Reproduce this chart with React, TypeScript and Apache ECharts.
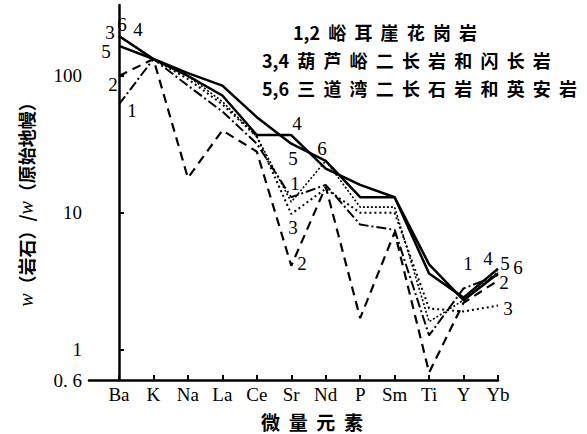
import React, { useEffect, useRef } from "react";
import * as echarts from "echarts";

const categories = ["Ba", "K", "Na", "La", "Ce", "Sr", "Nd", "P", "Sm", "Ti", "Y", "Yb"];
const s1 = [62, 133, 85, 55, 32, 13, 16, 8.2, 7.5, 1.27, 2.8, 3.5];
const s2 = [100, 133, 18, 40, 28, 4.1, 15.5, 1.7, 7.2, 0.68, 2.2, 3.2];
const s3 = [196, 133, 95, 62, 36, 9.8, 15, 10, 10, 2.0, 1.9, 2.1];
const s4 = [196, 133, 100, 72, 37, 37, 21, 16, 13, 3.6, 2.4, 3.9];
const s5 = [166, 133, 105, 85, 50, 32, 24, 13, 13, 4.2, 2.3, 3.6];
const s6 = [196, 133, 100, 65, 36, 12, 24, 11, 11, 1.6, 2.3, 3.7];
const yTicks = [1, 10, 100];
const yLabels = [0.6, 1, 10, 100];
const legendLines = [
  "1,2  峪  耳  崖  花  岗  岩",
  "3,4  葫  芦  峪  二  长  岩  和  闪  长  岩",
  "5,6  三  道  湾  二  长  石  岩  和  英  安  岩",
];
const seriesTags = [
  ["3", 110, 32], ["6", 122, 24], ["4", 138, 29], ["5", 106, 51], ["2", 113, 84], ["1", 132, 110],
  ["4", 297, 123], ["6", 322, 148], ["5", 293, 158], ["1", 295, 183], ["3", 293, 227], ["2", 302, 263],
  ["1", 468, 263], ["4", 488, 258], ["5", 505, 263], ["6", 518, 267], ["2", 504, 282], ["3", 508, 308],
];

const SERIF = "'Liberation Serif', 'DejaVu Serif', serif";
const CJK = "'Noto Sans CJK SC', sans-serif";

export default function App() {
  const ref = useRef<HTMLDivElement>(null);
  useEffect(() => {
    if (!ref.current) return;
    const chart = echarts.init(ref.current, null, { renderer: "svg" });
    const idx = categories.map((_, i) => i);
    const mk = (vals: number[], type: any, width: number) => ({
      type: "line",
      data: vals.map((v, i) => [i, v]),
      symbol: "none",
      lineStyle: { color: "#000", width, type },
      silent: true,
    });
    chart.setOption({
      animation: false,
      backgroundColor: "#fff",
      grid: { left: 89, right: 89, top: 5, bottom: 54 },
      xAxis: {
        type: "value",
        min: -0.87,
        max: 11,
        axisLine: { show: true, lineStyle: { color: "#000", width: 2.5 } },
        axisTick: { show: true, inside: true, length: 5, customValues: idx, lineStyle: { color: "#000", width: 2 } },
        axisLabel: {
          customValues: idx,
          formatter: (v: number) => categories[Math.round(v)] ?? "",
          fontFamily: SERIF,
          fontSize: 19,
          color: "#000",
          margin: 5,
        },
        splitLine: { show: false },
      },
      yAxis: {
        type: "log",
        logBase: 10,
        min: 0.6,
        max: 330,
        axisLine: { show: true, lineStyle: { color: "#000", width: 2.5 } },
        axisTick: { show: true, inside: true, length: 5, customValues: yTicks, lineStyle: { color: "#000", width: 2 } },
        axisLabel: {
          customValues: yLabels,
          formatter: (v: number) => (Math.abs(v - 0.6) < 1e-6 ? "0. 6" : String(Math.round(v))),
          fontFamily: SERIF,
          fontSize: 19,
          color: "#000",
          margin: 7,
        },
        splitLine: { show: false },
      },
      series: [
        mk(s1, [10, 3, 2, 3], 2),
        mk(s2, [9, 6], 2.2),
        mk(s3, [2, 3], 2),
        mk(s4, "solid", 2.5),
        mk(s5, "solid", 2.5),
        mk(s6, [2, 2], 1.6),
      ],
      graphic: [
        ...legendLines.map((t, i) => ({
          type: "text",
          left: i === 0 ? 293 : 262,
          top: [23, 51, 79][i],
          style: { text: t, font: `bold 18px ${CJK}`, fill: "#000" },
          silent: true,
        })),
        ...seriesTags.map(([t, x, y]) => ({
          type: "text",
          x: x as number,
          y: y as number,
          style: { text: t as string, font: `19px ${SERIF}`, fill: "#000", align: "center", verticalAlign: "middle" },
          silent: true,
        })),
        {
          type: "text",
          x: 312,
          y: 421,
          style: { text: "微  量  元  素", font: `bold 19px ${CJK}`, fill: "#000", align: "center", verticalAlign: "middle" },
          silent: true,
        },
        {
          type: "text",
          x: 26,
          y: 200,
          rotation: Math.PI / 2,
          style: {
            text: "{w|w}{c|（岩石）/}{w|w}{c|（原始地幔）}",
            align: "center",
            verticalAlign: "middle",
            fill: "#000",
            rich: {
              w: { font: `italic 20px ${SERIF}`, fill: "#000" },
              c: { font: `bold 18px ${CJK}`, fill: "#000" },
            },
          },
          silent: true,
        },
      ],
    });
    return () => chart.dispose();
  }, []);
  return <div ref={ref} style={{ width: 587, height: 434, position: "absolute", left: 0, top: 0 }} />;
}
